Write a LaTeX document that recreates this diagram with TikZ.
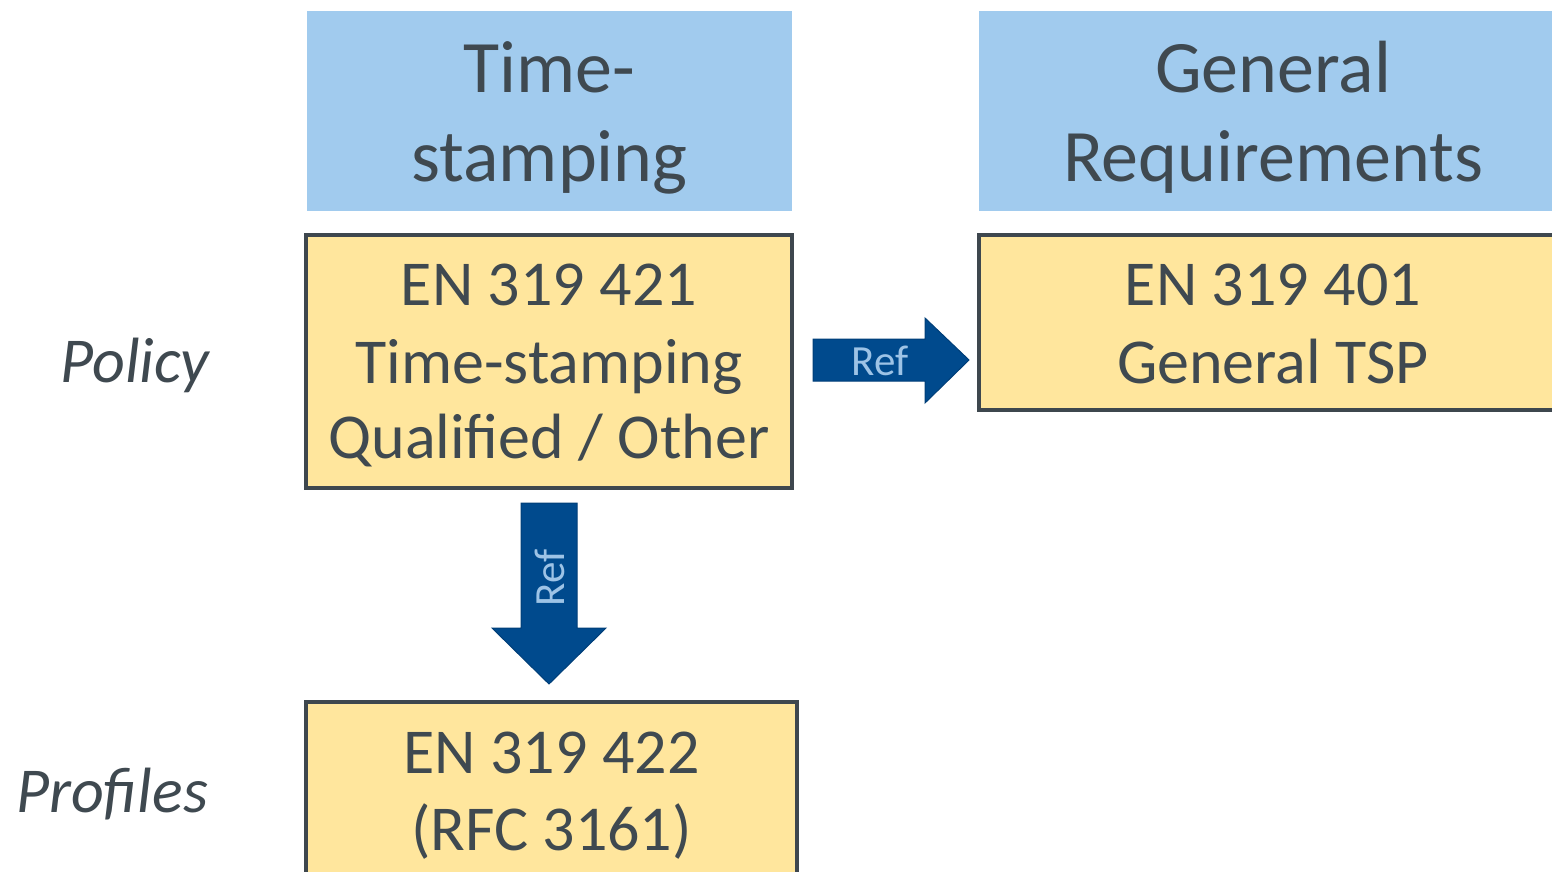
\documentclass[tikz,border=0pt]{standalone}
\usepackage{fontspec}
\setmainfont{Carlito}
\definecolor{hdr}{HTML}{A1CBEE}
\definecolor{ylw}{HTML}{FFE69D}
\definecolor{brd}{HTML}{3E474E}
\definecolor{txt}{HTML}{3F4950}
\definecolor{arr}{HTML}{004A8D}
\definecolor{arrb}{HTML}{003E78}
\definecolor{reft}{HTML}{9DC3E6}
\tikzset{
  hdrbox/.style={fill=hdr, draw=none, inner sep=0pt},
  ybox/.style={fill=ylw, draw=brd, line width=4pt, inner sep=0pt},
  hdrtxt/.style={text=txt, font=\fontsize{74}{88}\selectfont, anchor=base, inner sep=0pt},
  boxtxt/.style={text=txt, font=\fontsize{64}{77}\selectfont, anchor=base, inner sep=0pt},
  sidetxt/.style={text=txt, font=\fontsize{64}{77}\selectfont\itshape, anchor=base, inner sep=0pt},
  bigarrow/.style={fill=arr, draw=arrb, line width=1pt, line join=miter},
  reftxt/.style={text=reft, font=\fontsize{43}{48}\selectfont, inner sep=0pt},
}
\begin{document}
\begin{tikzpicture}[x=1pt,y=-1pt]
\useasboundingbox (0,0) rectangle (1552,872);
\clip (0,0) rectangle (1552,872);
% headers
\node[hdrbox, minimum width=485, minimum height=200] (h1) at (549.5,111) {};
\node[hdrtxt] (h1a) at (549.5,93) {Time-};
\node[hdrtxt] (h1b) at (549.5,181) {stamping};
\node[hdrbox, minimum width=588, minimum height=200] (h2) at (1273,111) {};
\node[hdrtxt] (h2a) at (1273,93) {General};
\node[hdrtxt] (h2b) at (1273,181) {Requirements};
% yellow boxes
\node[ybox, minimum width=486, minimum height=253] (b421) at (549,361.5) {};
\node[boxtxt] (t421a) at (549,305) {EN 319 421};
\node[boxtxt] (t421b) at (549,383) {Time-stamping};
\node[boxtxt] (t421c) at (549,458) {Qualified / Other};
\node[ybox, minimum width=588, minimum height=175] (b401) at (1273,322.5) {};
\node[boxtxt] (t401a) at (1273,305) {EN 319 401};
\node[boxtxt] (t401b) at (1273,383) {General TSP};
\node[ybox, minimum width=491, minimum height=200] (b422) at (551.5,802) {};
\node[boxtxt] (t422a) at (551.5,773) {EN 319 422};
\node[boxtxt] (t422b) at (551.5,850) {(RFC 3161)};
% side labels
\node[sidetxt] (pol) at (135,382) {Policy};
\node[sidetxt] (prof) at (112,812) {Profiles};
% arrows
\draw[bigarrow] (813,339) -- (925,339) -- (925,318) -- (969,360) -- (925,403) -- (925,381) -- (813,381) -- cycle;
\node[reftxt] (r1) at (880,361) {Ref};
\draw[bigarrow] (521,503) -- (577,503) -- (577,628) -- (606,628) -- (549,684) -- (492,628) -- (521,628) -- cycle;
\node[reftxt, rotate=90] (r2) at (550,578) {Ref};
\end{tikzpicture}
\end{document}
